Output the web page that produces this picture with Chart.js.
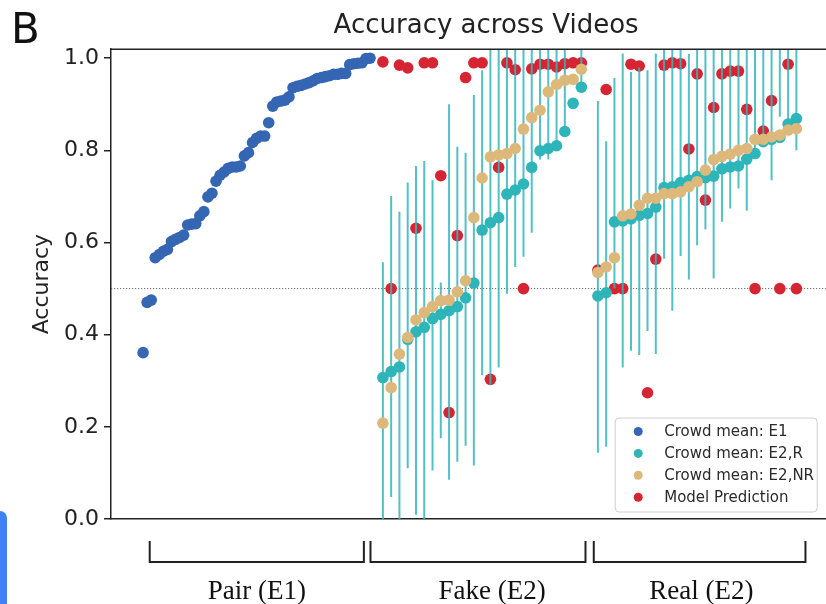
<!DOCTYPE html>
<html>
<head>
<meta charset="utf-8">
<script src="https://cdn.jsdelivr.net/npm/chart.js@4.4.0/dist/chart.umd.min.js"></script>
<style>
  html, body { margin: 0; padding: 0; background: #fff; }
  #wrap { position: relative; width: 826px; height: 604px; overflow: hidden; }
  #tab { position: absolute; left: 0; top: 511px; width: 7px; height: 93px; background: #3f82f4; border-radius: 0 8px 0 0; }
</style>
</head>
<body>
<div id="wrap">
  <canvas id="chart1" width="867" height="604"></canvas>
  <div id="tab"></div>
</div>
<script>
"use strict";

// crowd accuracy per video pair (E1), sorted
const pairAcc = [0.361, 0.470, 0.475, 0.567, 0.574, 0.581, 0.585, 0.602, 0.607, 0.611,
  0.616, 0.638, 0.640, 0.641, 0.658, 0.667, 0.699, 0.707, 0.733, 0.746,
  0.753, 0.761, 0.764, 0.764, 0.766, 0.788, 0.795, 0.817, 0.826, 0.831,
  0.831, 0.860, 0.896, 0.905, 0.907, 0.909, 0.916, 0.936, 0.939, 0.941,
  0.944, 0.947, 0.951, 0.956, 0.958, 0.960, 0.962, 0.965, 0.965, 0.967,
  0.967, 0.986, 0.988, 0.989, 0.990, 0.999, 1.000];

// fake videos (E2)
const fakeR = [0.307, 0.320, 0.330, 0.390, 0.406, 0.416, 0.435, 0.444, 0.452, 0.461,
  0.480, 0.512, 0.627, 0.643, 0.654, 0.705, 0.714, 0.727, 0.763, 0.799,
  0.804, 0.810, 0.841, 0.902, 0.937];
const fakeNR = [0.208, 0.285, 0.358, 0.394, 0.432, 0.448, 0.461, 0.474, 0.475, 0.493,
  0.517, 0.654, 0.740, 0.786, 0.790, 0.793, 0.804, 0.846, 0.871, 0.887,
  0.927, 0.943, 0.952, 0.954, 0.976];
const fakeModel = [0.992, 0.500, 0.985, 0.979, 0.631, 0.990, 0.990, 0.745, 0.231, 0.615,
  0.958, 0.990, 0.990, 0.303, 0.763, 0.990, 0.975, 0.500, 0.977, 0.987,
  0.987, 0.981, 0.988, 0.990, 0.990];
const fakeLow = [0.000, 0.048, 0.000, 0.110, 0.009, 0.000, 0.105, 0.175, 0.085, 0.124,
  0.159, 0.116, 0.312, 0.291, 0.329, 0.489, 0.547, 0.569, 0.621, 0.780,
  0.780, 0.800, 0.842, 0.903, 0.937];
const fakeHigh = [0.557, 0.701, 0.667, 0.730, 0.766, 0.777, 0.735, 0.513, 0.900, 0.808,
  0.795, 0.920, 0.974, 1.05, 1.05, 1.05, 1.05, 1.05, 1.05, 1.05,
  1.05, 1.05, 1.05, 0.903, 1.05];

// real videos (E2)
const realR = [0.484, 0.491, 0.645, 0.647, 0.651, 0.659, 0.663, 0.677, 0.719, 0.721,
  0.730, 0.735, 0.743, 0.741, 0.744, 0.760, 0.764, 0.766, 0.781, 0.793,
  0.819, 0.824, 0.828, 0.857, 0.869];
const realNR = [0.535, 0.547, 0.567, 0.658, 0.662, 0.681, 0.696, 0.696, 0.706, 0.706,
  0.710, 0.721, 0.732, 0.757, 0.780, 0.787, 0.792, 0.800, 0.804, 0.824,
  0.824, 0.829, 0.833, 0.844, 0.847];
const realModel = [0.540, 0.932, 0.500, 0.500, 0.987, 0.983, 0.274, 0.564, 0.985, 0.990,
  0.988, 0.803, 0.966, 0.692, 0.893, 0.966, 0.972, 0.972, 0.889, 0.500,
  0.842, 0.908, 0.500, 0.987, 0.500];
const realLow = [0.144, 0.157, 0.500, 0.329, 0.365, 0.356, 0.408, 0.358, 0.565, 0.452,
  0.571, 0.520, 0.594, 0.628, 0.522, 0.645, 0.674, 0.717, 0.669, 0.790,
  0.830, 0.735, 0.873, 0.857, 0.800];
const realHigh = [0.907, 0.820, 0.957, 1.010, 0.970, 0.980, 0.974, 1.010, 1.05, 1.05,
  1.05, 1.009, 1.05, 1.05, 1.05, 1.05, 1.05, 1.05, 1.05, 1.05,
  1.05, 1.05, 1.05, 1.05, 1.05];

const yTicks = [0, 0.2, 0.4, 0.6, 0.8, 1.0];
const chance = 0.5;
const groups = ['Pair (E1)', 'Fake (E2)', 'Real (E2)'];
const groupSpans = [[0.8, 26.7], [27.5, 53.5], [54.5, 80.1]];
const groupLabelX = [13.75, 42.2, 67.5];

// x layout: video index
const pairStep = 0.49, fakeStart = 29, realStart = 55;
const xMin = -3.88, xMax = 86.84, yMax = 1.0195;

function pts(start, step, vals) {
  return vals.map(function(v, i) { return {x: start + i * step, y: v}; });
}
function bars(start, lows, highs) {
  var out = [];
  lows.forEach(function(lo, i) {
    out.push({x: start + i, y: lo}, {x: start + i, y: highs[i]}, {x: start + i, y: null});
  });
  return out;
}

var decor = {
  id: 'decor',
  afterDraw: function(chart) {
    var ctx = chart.ctx, a = chart.chartArea, x = chart.scales.x;
    ctx.save();
    // top spine
    ctx.strokeStyle = '#222';
    ctx.lineWidth = 1.5;
    ctx.beginPath();
    ctx.moveTo(a.left, a.top);
    ctx.lineTo(a.right, a.top);
    ctx.stroke();

    // group brackets
    ctx.lineWidth = 2;
    ctx.fillStyle = '#111';
    ctx.font = '27px "Liberation Serif"';
    ctx.textAlign = 'center';
    ctx.textBaseline = 'alphabetic';
    groupSpans.forEach(function(s, i) {
      var x0 = x.getPixelForValue(s[0]), x1 = x.getPixelForValue(s[1]);
      ctx.beginPath();
      ctx.moveTo(x0, a.bottom + 22);
      ctx.lineTo(x0, a.bottom + 43);
      ctx.lineTo(x1, a.bottom + 43);
      ctx.lineTo(x1, a.bottom + 22);
      ctx.stroke();
      ctx.fillText(groups[i], x.getPixelForValue(groupLabelX[i]), a.bottom + 80);
    });

    // legend, lower right
    var items = chart.data.datasets.filter(function(d) { return d.inLegend; });
    items.sort(function(p, q) { return p.legendPos - q.legendPos; });
    var w = 202, h = 94;
    var lx = a.right - 44 - w, ly = a.bottom - 7 - h;
    ctx.beginPath();
    ctx.roundRect(lx, ly, w, h, 4);
    ctx.fillStyle = 'rgba(255,255,255,0.85)';
    ctx.fill();
    ctx.strokeStyle = '#cfcfcf';
    ctx.lineWidth = 1;
    ctx.stroke();
    ctx.font = '15px "DejaVu Sans"';
    ctx.textAlign = 'left';
    ctx.textBaseline = 'middle';
    items.forEach(function(d, i) {
      var ry = ly + 13.5 + i * 21.9;
      ctx.beginPath();
      ctx.arc(lx + 23, ry, 4.5, 0, Math.PI * 2);
      ctx.fillStyle = d.backgroundColor;
      ctx.fill();
      ctx.fillStyle = '#2a2a2a';
      ctx.fillText(d.label, lx + 49, ry + 1);
    });

    // panel letter
    ctx.font = '42px "DejaVu Sans"';
    ctx.fillStyle = '#111';
    ctx.textBaseline = 'alphabetic';
    ctx.fillText('B', 11, 42.5);
    ctx.restore();
  }
};

var ctx = document.getElementById('chart1').getContext('2d');
var myChart = new Chart(ctx, {
  type: 'scatter',
  data: {
    datasets: [{
      label: 'chance',
      type: 'line',
      data: [{x: xMin, y: chance}, {x: xMax, y: chance}],
      borderColor: '#666',
      borderWidth: 1,
      borderDash: [1.2, 1.8],
      pointRadius: 0,
      order: 10
    }, {
      label: 'Model Prediction',
      data: pts(fakeStart, 1, fakeModel).concat(pts(realStart, 1, realModel)),
      backgroundColor: '#d62432',
      pointRadius: 5.8,
      pointBorderWidth: 0,
      inLegend: true, legendPos: 3,
      order: 6
    }, {
      label: 'spread',
      data: bars(fakeStart, fakeLow, fakeHigh).concat(bars(realStart, realLow, realHigh)),
      showLine: true,
      spanGaps: false,
      borderColor: 'rgba(52,182,188,0.85)',
      borderWidth: 2,
      pointRadius: 0,
      order: 5
    }, {
      label: 'Crowd mean: E2,R',
      data: pts(fakeStart, 1, fakeR).concat(pts(realStart, 1, realR)),
      backgroundColor: '#2db5b9',
      pointRadius: 5.8,
      pointBorderWidth: 0,
      inLegend: true, legendPos: 1,
      order: 4
    }, {
      label: 'Crowd mean: E2,NR',
      data: pts(fakeStart, 1, fakeNR).concat(pts(realStart, 1, realNR)),
      backgroundColor: '#dcb97b',
      pointRadius: 5.8,
      pointBorderWidth: 0,
      inLegend: true, legendPos: 2,
      order: 3
    }, {
      label: 'Crowd mean: E1',
      data: pts(0, pairStep, pairAcc),
      backgroundColor: '#3566b4',
      pointRadius: 5.8,
      pointBorderWidth: 0,
      inLegend: true, legendPos: 0,
      order: 2
    }]
  },
  options: {
    responsive: false,
    animation: false,
    events: [],
    layout: { padding: { left: 0, right: 0, top: 0, bottom: 85 } },
    plugins: {
      legend: { display: false },
      tooltip: { enabled: false },
      title: {
        display: true,
        fullSize: false,
        text: 'Accuracy across Videos',
        color: '#222',
        font: { family: 'DejaVu Sans', size: 26, weight: 'normal' },
        padding: { top: 11, bottom: 7 }
      }
    },
    scales: {
      x: {
        type: 'linear',
        min: xMin,
        max: xMax,
        ticks: { display: false },
        grid: { display: false, drawTicks: false },
        border: { display: true, color: '#222', width: 1.5 },
        afterFit: function(s) { s.height = 0; }
      },
      y: {
        min: 0,
        max: yMax,
        afterBuildTicks: function(s) { s.ticks = yTicks.map(function(v) { return {value: v}; }); },
        ticks: {
          color: '#222',
          padding: 5,
          font: { family: 'DejaVu Sans', size: 22 },
          callback: function(v) { return Number(v).toFixed(1); }
        },
        grid: { display: true, drawOnChartArea: false, drawTicks: true, tickLength: 7, color: '#222', lineWidth: 1.5 },
        border: { display: true, color: '#222', width: 1.5 },
        title: {
          display: true,
          text: 'Accuracy',
          color: '#222',
          font: { family: 'DejaVu Sans', size: 22 },
          padding: { top: 29, bottom: 0 }
        },
        afterFit: function(s) { s.width = 111; }
      }
    }
  },
  plugins: [decor]
});
</script>
</body>
</html>
